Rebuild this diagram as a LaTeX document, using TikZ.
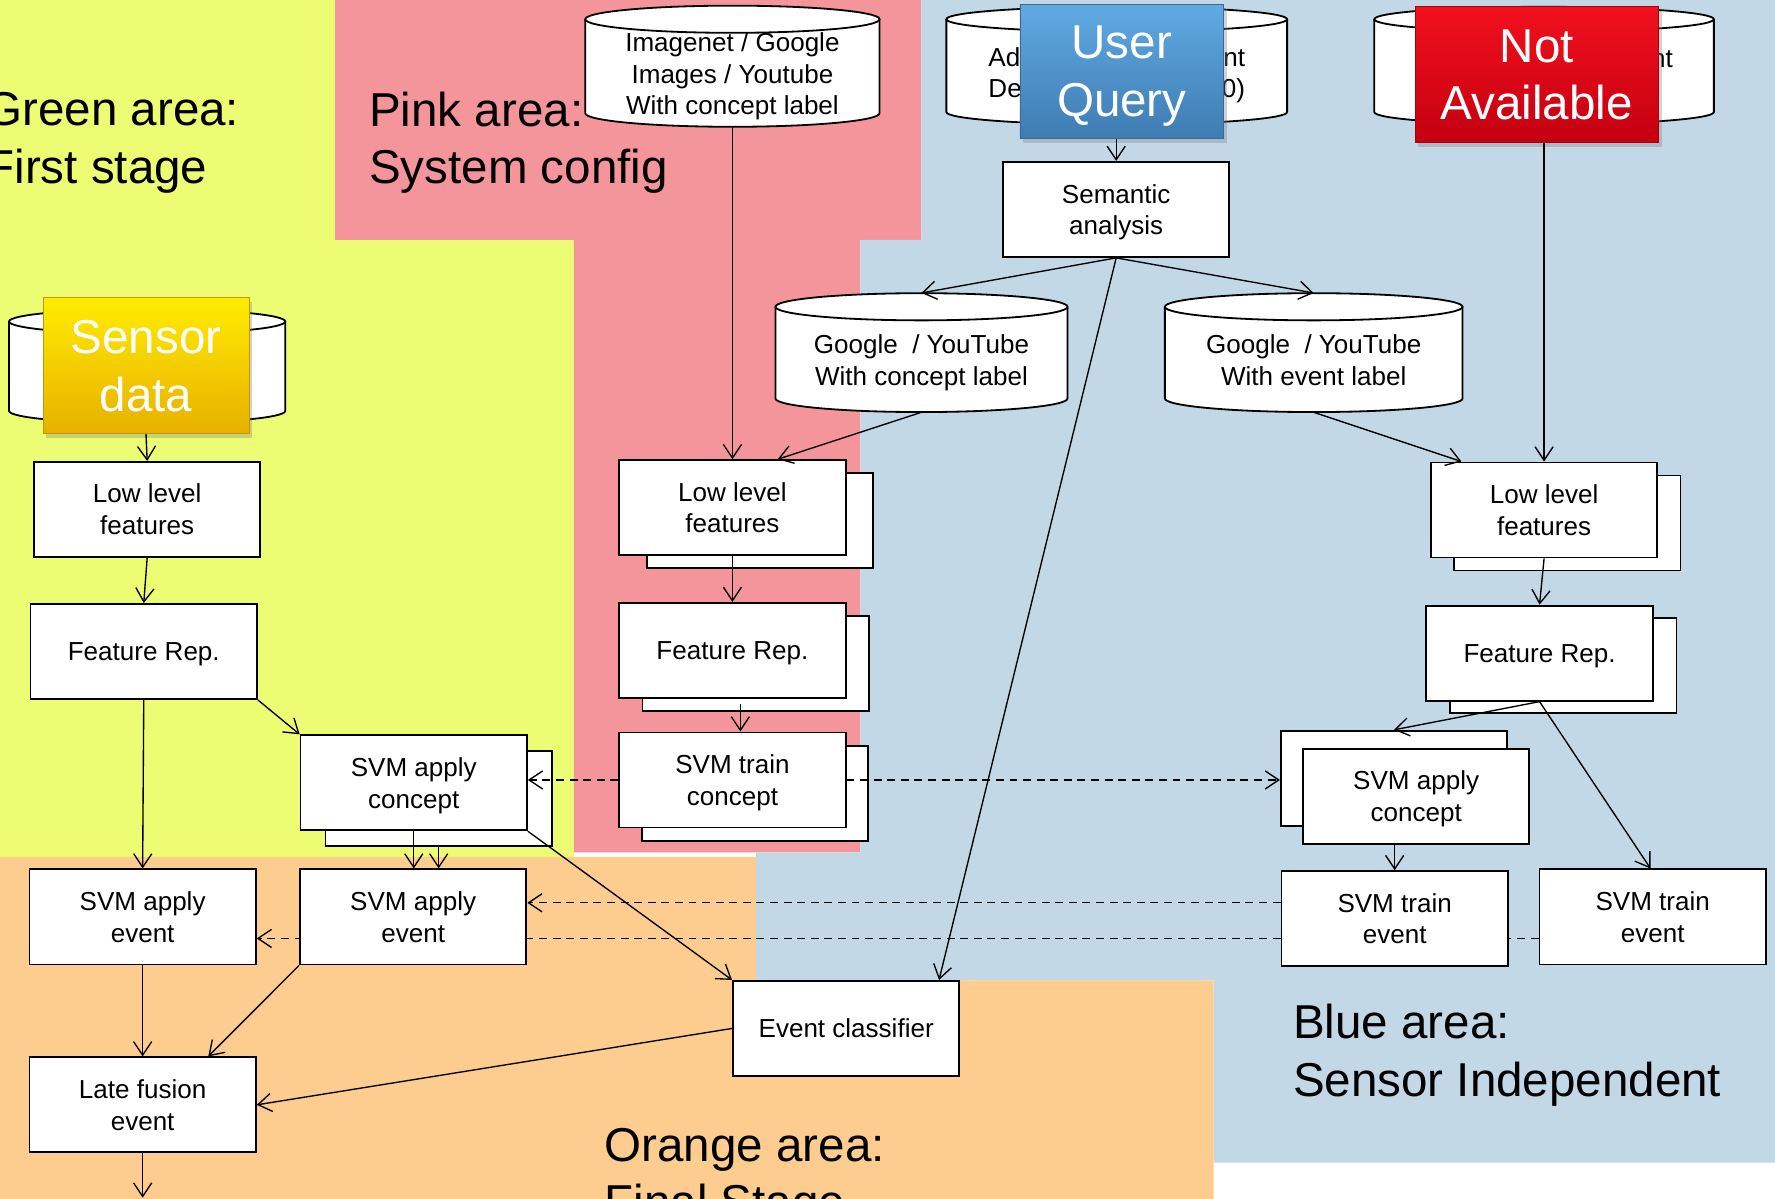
\documentclass[tikz,border=0pt]{standalone}
\usepackage{fontspec}
\setmainfont{Liberation Sans}
\usetikzlibrary{arrows.meta,shadows,calc}

\definecolor{areagreen}{RGB}{236,253,115}
\definecolor{areapink}{RGB}{244,149,156}
\definecolor{areablue}{RGB}{194,216,231}
\definecolor{areaorange}{RGB}{253,204,143}

\tikzset{
  box/.style={draw, line width=1.6pt, fill=white, minimum width=200pt, minimum height=84pt,
    inner sep=0pt, align=center, text depth=0pt, font=\fontsize{23}{28}\selectfont},
  flow/.style={line width=1.2pt, -{Straight Barb[length=12pt,width=16pt]}},
  dflow/.style={flow, dash pattern=on 7pt off 5pt},
  tankline/.style={line width=1.6pt},
  bigtext/.style={font=\fontsize{42}{51}\selectfont, align=left, inner sep=0pt},
  drumtext/.style={font=\fontsize{23}{28}\selectfont, align=center, text depth=0pt, inner sep=0pt},
  badge/.style={inner sep=0pt, align=center, text=white, line width=0.8pt, text depth=0pt,
    font=\fontsize{42}{51}\selectfont,
    drop shadow={shadow xshift=3pt, shadow yshift=-4pt, opacity=0.35}},
}

% database drum: #1 name, #2 centre x, #3 x radius, #4 top y, #5 bottom y, #6 y radius
\newcommand\tankshape[6]{%
  \fill[white] ({#2-#3},#5) arc[start angle=180,end angle=0,x radius=#3,y radius=#6]
    -- ({#2+#3},#4) arc[start angle=0,end angle=-180,x radius=#3,y radius=#6] -- cycle;
  \draw[tankline] ({#2-#3},#4) -- ({#2-#3},#5)
    arc[start angle=180,end angle=0,x radius=#3,y radius=#6] -- ({#2+#3},#4);
  \draw[tankline] (#2,#4) ellipse[x radius=#3,y radius=#6];
  \node[inner sep=0pt, minimum width={2*#3}, minimum height={#5-#4+2*#6}] (#1) at (#2,{(#4+#5)/2}) {};
}

\begin{document}
\begin{tikzpicture}[x=1pt,y=-1pt]
\useasboundingbox (0,0) rectangle (1568,1059);
\clip (0,0) rectangle (1568,1059);

% coloured areas
\fill[white] (0,0) rectangle (1568,1059);
\fill[areagreen] (0,0) -- (296,0) -- (296,212) -- (507,212) -- (507,757) -- (0,757) -- cycle;
\fill[areapink] (296,0) -- (814,0) -- (814,212) -- (760,212) -- (760,753) -- (507,753) -- (507,212) -- (296,212) -- cycle;
\fill[areablue] (814,0) -- (1568,0) -- (1568,1027) -- (1072,1027) -- (1072,866) -- (668,866) -- (668,753) -- (760,753) -- (760,212) -- (814,212) -- cycle;
\fill[areaorange] (0,757) -- (668,757) -- (668,866) -- (1072,866) -- (1072,1059) -- (0,1059) -- cycle;

% area captions
\node[bigtext, anchor=west] (capgreen) at (-13,126) {Green area:\\First stage};
\node[bigtext, anchor=west] (cappink) at (326,126) {Pink area:\\System config};
\node[bigtext, anchor=west] (capblue) at (1142,932) {Blue area:\\Sensor Independent};
\node[bigtext, anchor=west] (caporange) at (534,1041) {Orange area:\\Final Stage};

% databases
\tankshape{sensdrum}{130}{122}{284}{363}{11}
\tankshape{imgdrum}{647}{130}{17}{100}{12}
\node[drumtext] (imgtext) at (647,65) {Imagenet / Google\\Images / Youtube\\With concept label};
\tankshape{uqdrum}{986.5}{150.5}{17}{99}{11}
\node[drumtext, anchor=west, align=left] (uqleft) at (873,64) {Ad\\De};
\node[drumtext, anchor=east, align=right] (uqright) at (1100,65) {nt\\0)};
\tankshape{nadrum}{1364}{150}{17}{99}{11}
\node[drumtext, anchor=east] (naright) at (1478,52) {nt};
\tankshape{gcdrum}{814}{129}{271}{352}{12}
\node[drumtext] (gctext) at (814,318) {Google\ \ / YouTube\\With concept label};
\tankshape{gedrum}{1160.5}{131.5}{271}{352}{12}
\node[drumtext] (getext) at (1160.5,318) {Google\ \ / YouTube\\With event label};

% highlighted labels
\node[badge, minimum width=182pt, minimum height=120pt, draw={rgb,255:red,205;green,150;blue,0},
  top color={rgb,255:red,255;green,236;blue,0}, bottom color={rgb,255:red,232;green,176;blue,0}]
  (gsens) at (129,323) {Sensor\\data};
\node[badge, minimum width=180pt, minimum height=118pt, draw={rgb,255:red,55;green,105;blue,155},
  top color={rgb,255:red,96;green,170;blue,226}, bottom color={rgb,255:red,62;green,124;blue,178}]
  (uq) at (991,63) {User\\Query};
\node[badge, minimum width=215pt, minimum height=120pt, draw={rgb,255:red,170;green,0;blue,10},
  top color={rgb,255:red,242;green,16;blue,30}, bottom color={rgb,255:red,196;green,0;blue,16}]
  (na) at (1357.5,66) {Not\\Available};

% boxes under the long dashed link
\node[box] (gsae) at (126,810) {SVM apply\\event};
\node[box] (bste2) at (1460,810) {SVM train\\event};
\draw[dflow] ([yshift=-19pt]bste2.west) -- ([yshift=-19pt]bste2.west -| gsae.east);

% first stage column
\node[box] (gllf) at (130,450) {Low level\\features};
\node[box] (gfr) at (127,575.5) {Feature Rep.};
\node[box] (gsacb) at (387.5,705.5) {};
\node[box] (gsac) at (365.5,691.5) {SVM apply\\concept};
\node[box] (msae) at (365,810) {SVM apply\\event};
\node[box] (lfe) at (126,976) {Late fusion\\event};
\node[box] (ec) at (747.5,908.5) {Event classifier};

% system config column
\node[box] (pllfb) at (671.5,460) {};
\node[box] (pllf) at (647,448.5) {Low level\\features};
\node[box] (pfrb) at (667.5,586) {};
\node[box] (pfr) at (647,574.5) {Feature Rep.};
\node[box] (pstcb) at (667,701) {};
\node[box] (pstc) at (647,689) {SVM train\\concept};

% sensor independent column
\node[box] (sem) at (986,185) {Semantic\\analysis};
\node[box] (bllfb) at (1384.5,462) {};
\node[box] (bllf) at (1364,450.5) {Low level\\features};
\node[box] (bfrb) at (1381,588) {};
\node[box] (bfr) at (1360,577) {Feature Rep.};
\node[box] (bsacb) at (1231.5,687.5) {};
\node[box] (bsac) at (1251,703.5) {SVM apply\\concept};
\node[box] (bste) at (1232,811.5) {SVM train\\event};

% connectors
\draw[flow] (gsens.south) -- (gllf.north);
\draw[flow] (gllf.south) -- (gfr.north);
\draw[flow] (gfr.south east) -- (gsac.north west);
\draw[flow] (gfr.south) -- (gsae.north);
\draw[flow] (gsac.south) -- (gsac.south |- msae.north);
\draw[flow] (gsacb.south) -- (gsacb.south |- msae.north);
\draw[flow] (gsac.south east) -- (ec.north west);
\draw[flow] (gsae.south) -- (lfe.north);
\draw[flow] (msae.south west) -- ([xshift=58pt]lfe.north);
\coordinate (lfeout) at (126,1058);
\draw[flow] (lfe.south) -- (lfeout);
\draw[flow] (ec.west) -- (lfe.east);
\draw[flow] (sem.south) -- ([xshift=82pt]ec.north);
\draw[flow] (imgdrum.south) -- (pllf.north);
\draw[flow] (gcdrum.south) -- ([xshift=40pt]pllf.north);
\draw[flow] (pllf.south) -- (pfr.north);
\draw[flow] ([xshift=7pt,yshift=-5pt]pfr.south) -- ([xshift=7pt]pstc.north);
\draw[flow] (sem.north |- uq.south) -- (sem.north);
\draw[flow] (sem.south) -- (gcdrum.north);
\draw[flow] (sem.south) -- (gedrum.north);
\draw[flow] (gedrum.south) -- ([xshift=-73pt]bllf.north);
\draw[flow] (na.south -| bllf.north) -- (bllf.north);
\draw[flow] (bllf.south) -- (bfr.north);
\draw[flow] (bfr.south) -- (bsacb.north);
\draw[flow] (bfr.south) -- ([xshift=-2pt]bste2.north);
\draw[flow] (bsac.south -| bste.north) -- (bste.north);
\draw[dflow] (pstc.west) -- (pstc.west -| gsac.east);
\draw[dflow] (pstc.east) -- (pstc.east -| bsacb.west);
\draw[dflow] ([yshift=14pt]bste.west) -- ([yshift=14pt]bste.west -| msae.east);
\end{tikzpicture}
\end{document}
